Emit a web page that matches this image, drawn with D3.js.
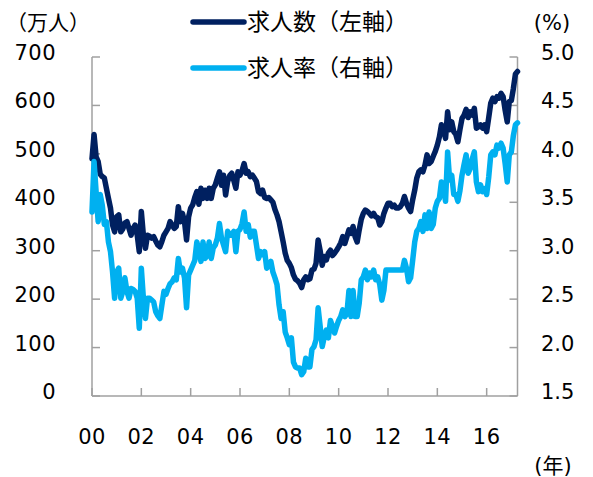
<!DOCTYPE html>
<html>
<head>
<meta charset="utf-8">
<script src="https://cdnjs.cloudflare.com/ajax/libs/d3/7.8.5/d3.min.js"></script>
<style>
  html, body { margin: 0; padding: 0; background: #ffffff; }
  svg { display: block; }
  text { font-family: "DejaVu Sans", "Noto Sans CJK JP", sans-serif; fill: #000; }
  text.jp { font-family: "Noto Sans CJK JP", sans-serif; }
</style>
</head>
<body>
<svg id="chart" width="593" height="477"></svg>
<script>
// ---- data (monthly, Jan 2000 .. Apr 2017) ----
const startYear = 2000;
const yearTicks = ["00", "02", "04", "06", "08", "10", "12", "14", "16"];
const leftTicks = [0, 100, 200, 300, 400, 500, 600, 700];
const rightTicks = [1.5, 2.0, 2.5, 3.0, 3.5, 4.0, 4.5, 5.0];
const seriesNames = ["求人数（左軸）", "求人率（右軸）"];

// 求人数 (万人)
const jobCount = [
  490, 540, 494, 484, 458, 453, 450, 429, 408, 388, 353, 339,
  370, 374, 339, 345, 357, 360, 346, 332, 346, 353, 332, 298,
  381, 332, 305, 332, 330, 326, 329, 320, 312, 308, 319, 332,
  339, 346, 360, 353, 346, 350, 391, 360, 377, 360, 322, 370,
  388, 395, 410, 422, 396, 429, 408, 425, 408, 429, 408, 429,
  436, 450, 463, 435, 456, 415, 443, 455, 460, 445, 429, 463,
  456, 465, 480, 460, 463, 453, 456, 450, 443, 422, 418, 425,
  410, 408, 410, 405, 400, 385, 374, 360, 339, 318, 295, 280,
  274, 265, 250, 241, 238, 233, 224, 240, 246, 240, 242, 260,
  262, 274, 322, 300, 270, 288, 281, 295, 301, 290, 295, 301,
  308, 316, 329, 315, 329, 343, 336, 350, 329, 318, 343, 365,
  377, 384, 381, 377, 372, 377, 370, 368, 353, 360, 377, 388,
  398, 398, 391, 394, 388, 388, 391, 398, 412, 398, 388, 381,
  405, 425, 450, 463, 467, 463, 477, 498, 480, 484, 495, 505,
  518, 535, 560, 550, 532, 587, 550, 566, 546, 540, 525, 550,
  573, 580, 592, 575, 587, 580, 594, 553, 556, 560, 553, 560,
  546, 575, 605, 615, 608, 618, 615, 625, 618, 590, 566, 608,
  610, 635, 665, 670
];

// 求人率 (%)
const jobRate = [
  3.40, 3.92, 3.61, 3.30, 3.58, 3.47, 3.27, 3.30, 3.09, 2.99, 2.78, 2.51,
  2.78, 2.82, 2.51, 2.58, 2.72, 2.58, 2.51, 2.61, 2.60, 2.58, 2.51, 2.20,
  2.82, 2.51, 2.30, 2.51, 2.51, 2.49, 2.47, 2.37, 2.33, 2.30, 2.44, 2.58,
  2.55, 2.61, 2.66, 2.68, 2.72, 2.70, 2.92, 2.78, 2.82, 2.72, 2.41, 2.75,
  2.80, 2.85, 2.90, 3.09, 3.00, 2.89, 3.09, 2.92, 2.95, 3.09, 2.92, 3.03,
  3.06, 3.13, 3.28, 3.13, 3.06, 2.99, 3.20, 3.16, 3.16, 3.20, 2.99, 3.20,
  3.22, 3.28, 3.40, 3.20, 3.27, 3.14, 3.20, 3.20, 3.06, 2.92, 2.99, 2.96,
  2.99, 2.82, 2.85, 2.89, 2.78, 2.72, 2.65, 2.44, 2.30, 2.37, 2.16, 2.10,
  2.03, 2.10, 1.85, 1.80, 1.79, 1.79, 1.72, 1.75, 1.89, 1.80, 1.80, 1.98,
  2.01, 2.08, 2.41, 2.22, 2.01, 2.11, 2.18, 2.10, 2.28, 2.22, 2.15, 2.22,
  2.28, 2.32, 2.39, 2.32, 2.35, 2.59, 2.32, 2.59, 2.32, 2.32, 2.46, 2.70,
  2.73, 2.80, 2.70, 2.77, 2.73, 2.80, 2.70, 2.73, 2.65, 2.49, 2.59, 2.80,
  2.80, 2.80, 2.80, 2.80, 2.80, 2.80, 2.80, 2.80, 2.90, 2.82, 2.68, 2.72,
  2.90, 3.09, 3.20, 3.23, 3.30, 3.20, 3.37, 3.23, 3.40, 3.23, 3.27, 3.44,
  3.51, 3.54, 3.71, 3.65, 3.51, 4.02, 3.73, 3.78, 3.58, 3.58, 3.51, 3.62,
  3.78, 3.89, 3.99, 3.80, 3.85, 3.95, 4.02, 3.71, 3.61, 3.68, 3.61, 3.64,
  3.58, 3.76, 3.99, 4.02, 3.99, 4.09, 4.06, 4.11, 4.06, 3.90, 3.71, 3.99,
  4.02, 4.19, 4.30, 4.32
];

// ---- layout ----
const svg = d3.select("#chart");
const L = 92, R = 517.5, T = 57, B = 396;
const axisColor = "#a0a0a0";
const darkColor = "#002060";
const lightColor = "#00b0f0";
const fs = 21;

const n = jobCount.length;
const x = d3.scaleLinear().domain([0, n - 1]).range([L, R]);
const yL = d3.scaleLinear().domain([0, 700]).range([B, T]);
const yR = d3.scaleLinear().domain([1.5, 5.0]).range([B, T]);

// axes lines
const g = svg.append("g");
g.append("line").attr("x1", L).attr("x2", L).attr("y1", T).attr("y2", B)
  .attr("stroke", axisColor).attr("stroke-width", 1.5);
g.append("line").attr("x1", R).attr("x2", R).attr("y1", T).attr("y2", B)
  .attr("stroke", axisColor).attr("stroke-width", 1.5);
g.append("line").attr("x1", L).attr("x2", R).attr("y1", B).attr("y2", B)
  .attr("stroke", axisColor).attr("stroke-width", 1.5);

// left ticks + labels
leftTicks.forEach(v => {
  g.append("line").attr("x1", L).attr("x2", L + 8).attr("y1", yL(v)).attr("y2", yL(v))
    .attr("stroke", axisColor).attr("stroke-width", 1.5);
  g.append("text").attr("x", 56).attr("y", yL(v) + 3).attr("text-anchor", "end")
    .attr("font-size", fs).attr("letter-spacing", 0.5).text(v);
});
// right ticks + labels
rightTicks.forEach(v => {
  g.append("line").attr("x1", R).attr("x2", R - 8).attr("y1", yR(v)).attr("y2", yR(v))
    .attr("stroke", axisColor).attr("stroke-width", 1.5);
  g.append("text").attr("x", 541).attr("y", yR(v) + 3).attr("text-anchor", "start")
    .attr("font-size", fs).text(v.toFixed(1));
});
// bottom ticks + labels
yearTicks.forEach((lab, k) => {
  const xi = x(k * 24);
  g.append("line").attr("x1", xi).attr("x2", xi).attr("y1", B).attr("y2", B - 8)
    .attr("stroke", axisColor).attr("stroke-width", 1.5);
  g.append("text").attr("x", xi).attr("y", 444).attr("text-anchor", "middle")
    .attr("font-size", fs).attr("letter-spacing", 0.5).text(lab);
});

// unit labels
svg.append("text").attr("class", "jp").attr("x", 6).attr("y", 30).attr("font-size", 21).text("（万人）");
svg.append("text").attr("x", 552).attr("y", 30).attr("text-anchor", "middle").attr("font-size", fs).text("(%)");
svg.append("text").attr("x", 553).attr("y", 473).attr("text-anchor", "middle").attr("font-size", fs).text("(年)");

// lines
const lineL = d3.line().x((d, i) => x(i)).y(d => yL(d));
const lineR = d3.line().x((d, i) => x(i)).y(d => yR(d));
svg.append("path").datum(jobCount).attr("d", lineL)
  .attr("fill", "none").attr("stroke", darkColor).attr("stroke-width", 5.5)
  .attr("stroke-linejoin", "round").attr("stroke-linecap", "round");
svg.append("path").datum(jobRate).attr("d", lineR)
  .attr("fill", "none").attr("stroke", lightColor).attr("stroke-width", 5.5)
  .attr("stroke-linejoin", "round").attr("stroke-linecap", "round");

// legend
const legend = [
  { name: seriesNames[0], color: darkColor, y: 22 },
  { name: seriesNames[1], color: lightColor, y: 68 }
];
legend.forEach(d => {
  svg.append("line").attr("x1", 193).attr("x2", 244).attr("y1", d.y).attr("y2", d.y)
    .attr("stroke", d.color).attr("stroke-width", 5.5).attr("stroke-linecap", "round");
  svg.append("text").attr("class", "jp").attr("x", 247).attr("y", d.y + 8).attr("font-size", 23).text(d.name);
});
</script>
</body>
</html>
